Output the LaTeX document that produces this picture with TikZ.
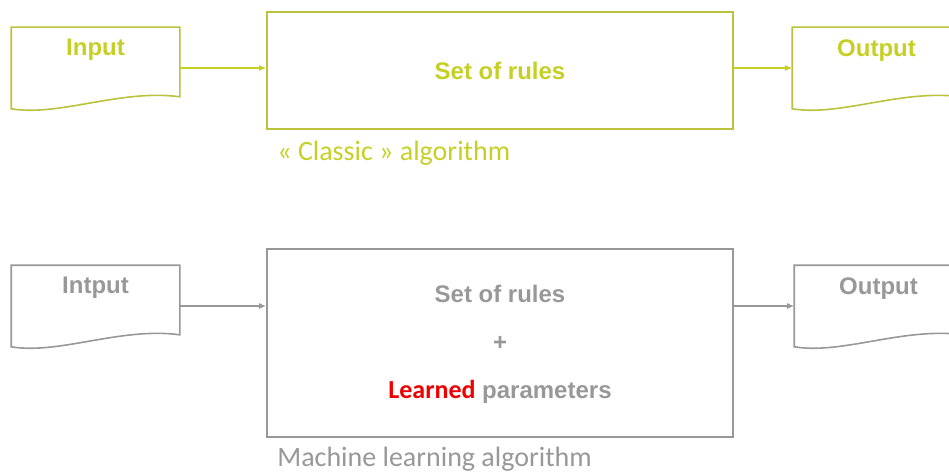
\documentclass[tikz,border=0pt]{standalone}
\usepackage{fontspec}
\setmainfont{Carlito}
\newfontfamily\arialbf{Liberation Sans}
\usetikzlibrary{arrows.meta}

\definecolor{clime}{RGB}{198,208,36}
\definecolor{colive}{RGB}{188,194,60}
\definecolor{cgrey}{RGB}{152,152,152}
\definecolor{cred}{RGB}{238,0,0}
\tikzset{mlfig/.style={x=1pt,y=-1pt,line width=1.6pt,>={Latex[length=7pt,width=6pt]}},
  docbox/.style={minimum width=167pt,minimum height=80pt,inner sep=0pt},
  rulebox/.style={draw,minimum width=466pt,inner sep=0pt},
  boldtxt/.style={font=\arialbf\fontsize{24}{28}\selectfont\bfseries},
  captxt/.style={font=\fontsize{28}{32}\selectfont,anchor=west}}
% outline of a document shape: flat top, wavy bottom
\newcommand\docpath[1]{(#1.south west) -- (#1.north west) -- (#1.north east)
  -- ([yshift=12pt]#1.south east) .. controls +(-59,-8) and +(48,8) .. (#1.south west) -- cycle}

\begin{document}
\begin{tikzpicture}[mlfig]
    \useasboundingbox (0,0) rectangle (949,473);
    \clip (0,0) rectangle (949,473);
    % classic algorithm
    \node[docbox] (in1) at (95.5,68) {};
    \node[rulebox,colive,minimum height=117pt] (box1) at (500,70.5) {};
    \node[docbox] (out1) at (876.5,68) {};
    \draw[colive] \docpath{in1};
    \draw[colive] \docpath{out1};
    \node[boldtxt,clime] (in1lbl) at ([yshift=-23pt]in1.north) {Input};
    \node[boldtxt,clime] (out1lbl) at ([yshift=-23pt]out1.north) {Output};
    \node[boldtxt,clime] (rules1) at (box1) {Set of rules};
    \draw[->,clime] (in1.east) -- (in1.east -| box1.west);
    \draw[->,clime] (box1.east |- out1.west) -- (out1.west);
    \node[captxt,clime] (cap1) at ([xshift=7pt,yshift=-23pt]box1.south west) {« Classic » algorithm};
    % machine learning algorithm
    \node[docbox] (in2) at (95.5,306) {};
    \node[rulebox,cgrey,minimum height=188pt] (box2) at (500,343) {};
    \node[docbox] (out2) at (878.5,306) {};
    \draw[cgrey] \docpath{in2};
    \draw[cgrey] \docpath{out2};
    \node[boldtxt,cgrey] (in2lbl) at ([yshift=-23pt]in2.north) {Intput};
    \node[boldtxt,cgrey] (out2lbl) at ([yshift=-23pt]out2.north) {Output};
    \node[boldtxt,cgrey] (rules2) at ([yshift=49pt]box2) {Set of rules};
    \node[boldtxt,cgrey] (plus2) at (box2) {+};
    \node[boldtxt,cgrey] (params2) at ([yshift=-49pt]box2)
      {{\rmfamily\fontsize{26}{30}\selectfont\bfseries\color{cred}Learned} parameters};
    \draw[->,cgrey] (in2.east) -- (in2.east -| box2.west);
    \draw[->,cgrey] (box2.east |- out2.west) -- (out2.west);
    \node[captxt,cgrey] (cap2) at ([xshift=7pt,yshift=-21pt]box2.south west) {Machine learning algorithm};
\end{tikzpicture}
\end{document}
